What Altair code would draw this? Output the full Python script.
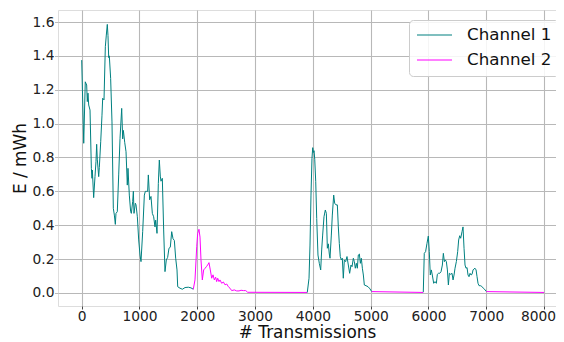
import altair as alt
import pandas as pd

# Channel 1, first burst
ch1_a_x = [0, 35, 62, 86, 97, 109, 121, 144, 167, 178, 184, 207, 230, 247, 259, 270, 294, 305, 329, 351,
           363, 386, 409, 426, 443, 455, 467, 478, 501, 524, 547, 565, 582, 593, 616, 640, 663, 692, 709, 721,
           744, 767, 789, 801, 824, 847, 859, 882, 894, 905, 928, 940, 963, 986, 1009, 1026, 1055, 1084, 1101,
           1124, 1141, 1153, 1176, 1199, 1222, 1245, 1268, 1280, 1303, 1326, 1343, 1360, 1372, 1395, 1418,
           1441, 1464, 1487, 1510, 1533, 1557, 1580, 1603, 1626, 1649, 1661, 1701, 1742, 1788, 1845, 1891, 1931]
ch1_a_y = [1.375, 0.884, 1.247, 1.228, 1.13, 1.18, 1.11, 1.08, 0.736, 0.677, 0.726, 0.563, 0.687, 0.775, 0.878,
           0.79, 0.687, 0.74, 0.893, 1.05, 1.15, 1.14, 1.454, 1.523, 1.586, 1.52, 1.39, 1.40, 1.267, 1.01, 0.50,
           0.46, 0.405, 0.47, 0.48, 0.697, 0.913, 1.09, 0.91, 0.96, 0.89, 0.834, 0.637, 0.736, 0.578, 0.48, 0.47,
           0.54, 0.60, 0.47, 0.53, 0.52, 0.45, 0.313, 0.224, 0.185, 0.362, 0.578, 0.60, 0.60, 0.60, 0.697, 0.55,
           0.57, 0.47, 0.45, 0.39, 0.43, 0.352, 0.647, 0.785, 0.69, 0.66, 0.677, 0.372, 0.126, 0.195, 0.21,
           0.264, 0.27, 0.362, 0.32, 0.31, 0.205, 0.136, 0.037, 0.028, 0.022, 0.032, 0.034, 0.03, 0.022]

# Channel 2, first stretch
ch2_a_x = [1931, 1960, 1990, 2007, 2029, 2047, 2064, 2087, 2110, 2133, 2156, 2179, 2202, 2225, 2249, 2272,
           2295, 2318, 2335, 2353, 2376, 2393, 2422, 2451, 2480, 2509, 2537, 2566, 2595, 2641, 2681, 2722,
           2757, 2797, 2837, 2872, 3903]
ch2_a_y = [0.022, 0.077, 0.273, 0.352, 0.376, 0.33, 0.195, 0.077, 0.136, 0.145, 0.155, 0.165, 0.179, 0.136,
           0.087, 0.107, 0.077, 0.093, 0.067, 0.087, 0.067, 0.077, 0.057, 0.065, 0.048, 0.053, 0.037, 0.028,
           0.014, 0.018, 0.012, 0.012, 0.016, 0.014, 0.014, 0.004, 0.003]

# Channel 1, second burst
ch1_b_x = [3903, 3933, 3950, 3967, 3984, 3997, 4009, 4020, 4032, 4049, 4066, 4088, 4111, 4135, 4152, 4169,
           4192, 4215, 4233, 4250, 4267, 4284, 4296, 4319, 4336, 4360, 4377, 4400, 4423, 4440, 4457, 4474,
           4492, 4509, 4526, 4544, 4567, 4590, 4613, 4636, 4659, 4677, 4700, 4717, 4734, 4752, 4769, 4786,
           4804, 4821, 4838, 4856, 4873, 4890, 4919, 4954, 4988, 5017]
ch1_b_y = [0.003, 0.087, 0.283, 0.578, 0.795, 0.858, 0.83, 0.84, 0.79, 0.657, 0.44, 0.224, 0.175, 0.136,
           0.254, 0.342, 0.45, 0.49, 0.47, 0.264, 0.29, 0.23, 0.205, 0.342, 0.46, 0.578, 0.53, 0.52, 0.52,
           0.39, 0.293, 0.215, 0.195, 0.205, 0.087, 0.195, 0.185, 0.215, 0.165, 0.116, 0.165, 0.155, 0.205,
           0.185, 0.146, 0.175, 0.146, 0.224, 0.23, 0.175, 0.205, 0.146, 0.106, 0.047, 0.043, 0.037, 0.024, 0.008]

# Channel 2, second stretch
ch2_b_x = [5017, 5910]
ch2_b_y = [0.008, 0.003]

# Channel 1, third burst
ch1_c_x = [5910, 5927, 5950, 5974, 5997, 6014, 6031, 6049, 6066, 6090, 6113, 6136, 6153, 6171, 6194, 6217,
           6240, 6257, 6275, 6292, 6309, 6327, 6344, 6361, 6384, 6407, 6425, 6442, 6459, 6482, 6505, 6522,
           6540, 6557, 6580, 6597, 6615, 6632, 6649, 6667, 6684, 6701, 6719, 6736, 6753, 6771, 6788, 6805,
           6823, 6840, 6857, 6875, 6898, 6921, 6950, 6979, 7002]
ch1_c_y = [0.005, 0.234, 0.244, 0.293, 0.336, 0.244, 0.106, 0.136, 0.106, 0.057, 0.067, 0.057, 0.11, 0.116,
           0.116, 0.126, 0.165, 0.234, 0.185, 0.195, 0.185, 0.136, 0.047, 0.116, 0.11, 0.116, 0.077, 0.106,
           0.146, 0.185, 0.244, 0.313, 0.338, 0.323, 0.362, 0.39, 0.264, 0.165, 0.146, 0.15, 0.106, 0.096,
           0.116, 0.106, 0.11, 0.136, 0.142, 0.146, 0.136, 0.096, 0.057, 0.043, 0.043, 0.039, 0.028, 0.018, 0.008]

# Channel 2, third stretch
ch2_c_x = [7002, 8000]
ch2_c_y = [0.008, 0.003]

x_ticks = [0, 1000, 2000, 3000, 4000, 5000, 6000, 7000, 8000]
y_ticks = [0.0, 0.2, 0.4, 0.6, 0.8, 1.0, 1.2, 1.4, 1.6]

segments = [
    ("Channel 1", "a1", ch1_a_x, ch1_a_y),
    ("Channel 2", "a2", ch2_a_x, ch2_a_y),
    ("Channel 1", "b1", ch1_b_x, ch1_b_y),
    ("Channel 2", "b2", ch2_b_x, ch2_b_y),
    ("Channel 1", "c1", ch1_c_x, ch1_c_y),
    ("Channel 2", "c2", ch2_c_x, ch2_c_y),
]
rows = []
for ch, seg, xs, ys in segments:
    for i, (xv, yv) in enumerate(zip(xs, ys)):
        rows.append({"x": xv, "y": yv, "channel": ch, "seg": seg, "order": i})
df = pd.DataFrame(rows)

FONT = "DejaVu Sans"

chart = alt.Chart(df).mark_line(strokeWidth=1, clip=True).encode(
    x=alt.X("x:Q", title="# Transmissions",
            scale=alt.Scale(domain=[-410, 8206], nice=False, zero=False),
            axis=alt.Axis(values=x_ticks, format="d", tickColor="#444444", tickSize=3,
                          labelOffset={"condition": {"test": "datum.value == 8000", "value": -6}, "value": 0})),
    y=alt.Y("y:Q", title="E / mWh",
            scale=alt.Scale(domain=[-0.077, 1.671], nice=False, zero=False),
            axis=alt.Axis(values=y_ticks, format=".1f", tickColor="#bbbbbb", titlePadding=3)),
    color=alt.Color("channel:N",
                    scale=alt.Scale(domain=["Channel 1", "Channel 2"], range=["#008080", "#ff00ff"]),
                    legend=alt.Legend(title=None, orient="none", legendX=351, legendY=10,
                                      symbolType="stroke", symbolSize=1225, symbolStrokeWidth=1.2,
                                      clipHeight=16, rowPadding=8, labelOffset=14,
                                      labelFontSize=16.7, labelFont=FONT, labelColor="#111111",
                                      padding=7, strokeColor="#cccccc", cornerRadius=4,
                                      fillColor="rgba(255,255,255,0.85)")),
    detail="seg:N",
    order="order:Q",
).properties(
    width=498, height=296,
    autosize=alt.AutoSizeParams(type="none"),
    padding={"left": 50, "top": 2, "right": 0, "bottom": 36},
).configure_view(stroke=None).configure(background="white").configure_axis(
    domain=False, grid=True, gridColor="#b8b8b8", gridWidth=1.1,
    tickSize=3.5, tickWidth=1, labelPadding=0.5,
    labelFont=FONT, labelFontSize=13.8, labelColor="#222222",
    titleFont=FONT, titleFontSize=16.9, titleFontWeight="normal", titleColor="#111111",
    titlePadding=1,
)

chart.save("out.html", embed_options={"renderer": "svg", "actions": False})
